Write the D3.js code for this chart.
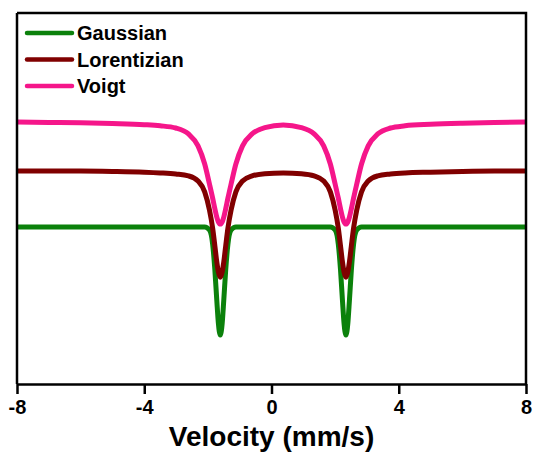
<!DOCTYPE html>
<html>
<head>
<meta charset="utf-8">
<script src="https://cdn.jsdelivr.net/npm/d3@7/dist/d3.min.js"></script>
<style>
  html, body { margin: 0; padding: 0; background: #fff; }
  svg { display: block; }
</style>
</head>
<body>
<script>
// Velocity sampling points (mm/s), denser around the two absorption lines
const velocity = [
  -8, -7, -6, -5, -4, -3.5,
  -3.01, -2.61, -2.31, -2.10, -1.95, -1.85, -1.78, -1.72, -1.67,
  -1.61,
  -1.55, -1.50, -1.44, -1.37, -1.27, -1.12, -0.91, -0.61, -0.21,
  0.37,
  0.94, 1.34, 1.64, 1.85, 2.00, 2.10, 2.17, 2.23, 2.28,
  2.34,
  2.40, 2.45, 2.51, 2.58, 2.68, 2.83, 3.04, 3.34, 3.74,
  4.2, 5.0, 6.0, 7.0, 8
];

// Relative transmission (arbitrary units, stacked with offsets)
const gaussian = [
  42.3, 42.3, 42.3, 42.3, 42.3, 42.3,
  42.3, 42.3, 42.3, 42.3, 41.5, 37.7, 30.7, 22.6, 16.4,
  13.2,
  16.4, 22.6, 30.7, 37.7, 41.5, 42.3, 42.3, 42.3, 42.3,
  42.3,
  42.3, 42.3, 42.3, 42.3, 41.5, 37.7, 30.7, 22.6, 16.4,
  13.2,
  16.4, 22.6, 30.7, 37.7, 41.5, 42.3, 42.3, 42.3, 42.3,
  42.3, 42.3, 42.3, 42.3, 42.3
];

const lorentzian = [
  57.4, 57.4, 57.4, 57.3, 57.1, 56.9,
  56.6, 56.1, 54.7, 51.8, 46.9, 42.0, 37.2, 32.9, 30.2,
  28.8,
  30.2, 32.9, 37.2, 42.0, 46.9, 51.8, 54.7, 56.1, 56.7,
  56.9,
  56.7, 56.1, 54.7, 51.8, 46.9, 42.0, 37.2, 32.9, 30.2,
  28.8,
  30.2, 32.9, 37.2, 42.0, 46.9, 51.8, 54.7, 56.1, 56.6,
  56.9, 57.1, 57.3, 57.4, 57.4
];

const voigt = [
  70.6, 70.5, 70.4, 70.2, 69.9, 69.6,
  69.0, 67.4, 64.2, 59.3, 53.9, 50.1, 47.2, 45.0, 43.7,
  43.1,
  43.7, 45.0, 47.2, 50.1, 53.9, 59.3, 64.2, 67.4, 69.1,
  69.8,
  69.1, 67.4, 64.2, 59.3, 53.9, 50.1, 47.2, 45.0, 43.7,
  43.1,
  43.7, 45.0, 47.2, 50.1, 53.9, 59.3, 64.2, 67.4, 69.0,
  69.6, 70.0, 70.3, 70.5, 70.6
];

const seriesNames = ["Gaussian", "Lorentizian", "Voigt"];
const seriesColors = ["#0b810b", "#800000", "#f5168a"];
const xTicks = [-8, -4, 0, 4, 8];
const xTitle = "Velocity (mm/s)";

const W = 533, H = 454;
const margin = { top: 13, right: 7, bottom: 70, left: 17 };
const fontFamily = "'Liberation Sans', Arial, Helvetica, sans-serif";

const svg = d3.select("body").append("svg")
  .attr("width", W).attr("height", H);

const x = d3.scaleLinear().domain([-8, 8]).range([margin.left, W - margin.right]);
const y = d3.scaleLinear().domain([0, 100]).range([H - margin.bottom, margin.top]);

// Spectra
const series = [gaussian, lorentzian, voigt];
const line = d3.line()
  .x(d => x(d[0]))
  .y(d => y(d[1]))
  .curve(d3.curveMonotoneX);

const plot = svg.append("g");
plot.append("defs").append("clipPath").attr("id", "plot-clip")
  .append("rect")
  .attr("x", margin.left).attr("y", margin.top)
  .attr("width", W - margin.left - margin.right)
  .attr("height", H - margin.top - margin.bottom);

plot.selectAll("path.spectrum")
  .data(series)
  .join("path")
  .attr("class", "spectrum")
  .attr("clip-path", "url(#plot-clip)")
  .attr("d", vals => line(velocity.map((v, i) => [v, vals[i]])))
  .attr("fill", "none")
  .attr("stroke", (d, i) => seriesColors[i])
  .attr("stroke-width", 5)
  .attr("stroke-linejoin", "round")
  .attr("stroke-linecap", "round");

// Frame (top and right borders)
svg.append("path")
  .attr("d", `M${x(-8)},${y(100)}H${x(8)}V${y(0)}`)
  .attr("fill", "none")
  .attr("stroke", "#000")
  .attr("stroke-width", 2.5);

svg.append("line")
  .attr("x1", x(-8)).attr("x2", x(-8))
  .attr("y1", y(0)).attr("y2", y(100))
  .attr("stroke", "#000").attr("stroke-width", 2.5);

// Bottom axis
const xAxis = d3.axisBottom(x)
  .tickValues(xTicks)
  .tickFormat(d3.format("d"))
  .tickSizeInner(10)
  .tickSizeOuter(0)
  .tickPadding(6);

const gx = svg.append("g")
  .attr("transform", `translate(0,${y(0)})`)
  .call(xAxis);
gx.select(".domain").attr("stroke", "#000").attr("stroke-width", 2.5);
gx.selectAll(".tick line").attr("stroke", "#000").attr("stroke-width", 2.5);
gx.selectAll(".tick text")
  .attr("fill", "#000")
  .attr("font-family", fontFamily)
  .attr("font-weight", "bold")
  .attr("font-size", 20)
  .text(d => d < 0 ? "-" + Math.abs(d) : d);

svg.append("text")
  .attr("x", x(0))
  .attr("y", 446)
  .attr("text-anchor", "middle")
  .attr("font-family", fontFamily)
  .attr("font-weight", "bold")
  .attr("font-size", 28)
  .attr("fill", "#000")
  .text(xTitle);

// Legend
const legend = svg.append("g");
const legendItems = legend.selectAll("g")
  .data(seriesNames)
  .join("g")
  .attr("transform", (d, i) => `translate(27,${33 + i * 26.5})`);
legendItems.append("line")
  .attr("x1", 0).attr("x2", 45)
  .attr("y1", 0).attr("y2", 0)
  .attr("stroke", (d, i) => seriesColors[i])
  .attr("stroke-width", 4.5)
  .attr("stroke-linecap", "round");
legendItems.append("text")
  .attr("x", 50)
  .attr("y", 0)
  .attr("dy", "0.35em")
  .attr("font-family", fontFamily)
  .attr("font-weight", "bold")
  .attr("font-size", 20)
  .attr("fill", "#000")
  .text(d => d);
</script>
</body>
</html>
